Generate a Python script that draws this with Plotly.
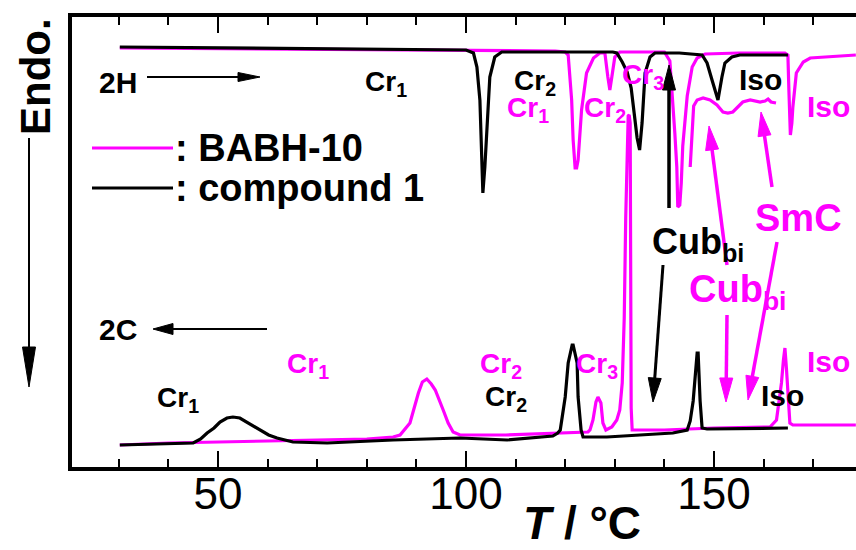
import math
import plotly.graph_objects as go

# ---------------- data (T in °C, heat flow in arbitrary units, endo = down) ----------------
# heating (2H) compound 1
T_heat_c1 = [30.2, 45, 60, 75, 90, 100, 101.5, 102.2, 102.8, 103.1, 103.4, 103.8, 104.2, 104.5, 104.8,
             105.8, 107.2, 115, 122, 129.6, 130.4, 131.5, 132.5, 133.3, 133.9, 134.5, 135.0, 135.5,
             136.1, 137.1, 138.1, 143, 147.6, 148.6, 149.6, 150.3, 150.8, 151.6, 152.2, 153.6, 155.2,
             160, 164.9]
Y_heat_c1 = [421, 420.5, 420, 419.5, 419, 418, 415, 401, 368, 318, 275, 301, 335, 368, 391,
             411, 416, 416, 416, 416, 415, 406, 396, 380, 355, 330, 318, 345,
             395, 411, 415, 415, 413, 405, 388, 375, 368, 391, 405, 411, 413,
             413, 413]

# cooling (2C) compound 1
T_cool_c1 = [30.2, 40, 45.0, 46.5, 47.8, 49.2, 50.4, 51.8, 53.0, 54.4, 55.8, 57.2, 58.5, 60.2, 61.9,
             65.1, 72.0, 85.3, 98.8, 108.3, 117.5, 118.5, 119.0, 120.0, 120.6, 121.4, 121.6, 122.4,
             122.6, 123.2, 123.6, 128.4, 141.7, 144.6, 145.2, 145.8, 146.6, 146.8, 147.2, 147.6,
             148.6, 164.9]
Y_cool_c1 = [23, 24, 25, 29, 35, 40, 46, 50, 51, 50, 46, 42, 38, 33, 30,
             26, 25, 28, 30, 28, 32, 35, 38, 71, 105, 123, 123, 105,
             71, 38, 31, 31, 35, 38, 47, 67, 115, 115, 67, 40,
             39, 40]

# heating (2H) BABH-10
T_heat_b10 = [30.2, 60, 100, 118, 120.0, 120.6, 121.3, 121.6, 122.0, 122.3, 122.6, 123.3, 124.3, 125.7,
              127.0, 128.0, 128.6, 129.0, 129.4, 130.0, 131.0, 140.0, 141.1, 141.7, 142.1, 142.5,
              142.7, 143.1, 143.4, 143.7, 144.6, 145.6, 146.6, 148.2, 155.0, 164.3, 164.9, 165.1,
              165.4, 165.7, 165.9, 166.6, 168.0, 169.4, 172.7, 178.6]
Y_heat_b10 = [420, 419, 418, 417, 416, 413, 368, 328, 300, 300, 308, 358, 395, 410,
              415, 415, 391, 378, 391, 411, 416, 416, 407, 367, 335, 301,
              261, 263, 285, 322, 372, 401, 410, 414, 415, 415, 413, 378,
              333, 345, 361, 395, 406, 410, 411, 413]

# heating (2H) BABH-10, magnified Cub_bi -> SmC -> Iso region
T_heat_b10_mag = [145.2, 145.5, 145.9, 146.6, 147.8, 149.2, 150.6, 151.8, 152.8, 153.8, 154.8, 155.8,
                  157.3, 158.3, 159.3, 160.3, 160.9, 161.5, 162.5]
Y_heat_b10_mag = [301, 335, 362, 368, 370, 368, 363, 356, 355, 356, 361, 366,
                  368, 367, 366, 367, 369, 366, 365]

# cooling (2C) BABH-10
T_cool_b10 = [30.2, 40, 60, 80, 85.3, 86.7, 88.7, 90.4, 91.2, 92.1, 93.0, 93.8, 95.4, 96.4, 97.4,
              98.8, 108.0, 117.5, 124.6, 125.0, 125.6, 126.2, 126.6, 127.2, 127.6, 128.2, 129.4,
              130.4, 131.0, 131.5, 131.9, 132.2, 132.5, 132.7, 132.9, 133.1, 133.2, 133.3, 133.5,
              140.0, 150.0, 161.3, 162.6, 163.6, 164.0, 164.3, 164.6, 164.9, 165.3, 165.9, 178.6]
Y_cool_b10 = [23, 25, 27, 29, 31, 33, 45, 75, 86, 89, 84, 78, 58, 45, 36,
              33, 33, 35, 36, 38, 48, 66, 71, 65, 45, 38, 41,
              48, 58, 85, 150, 250, 330, 352, 353, 345, 200, 60, 38,
              38, 40, 41, 48, 85, 108, 120, 100, 75, 45, 43, 43]

x_tick_vals = [50, 100, 150]
x_tick_text = ["50", "100", "150"]

# ---------------- style ----------------
FONT = "Liberation Sans, Arial, Helvetica, sans-serif"
MAG = "#FF00FF"
BLK = "#000000"
L, T, W, H = 72, 17, 784, 450   # plot area in pixels


def P(x, y):
    return (x - L) / W, (T + H - y) / H


fig = go.Figure()
for xs, ys, col in [(T_heat_b10, Y_heat_b10, MAG), (T_heat_b10_mag, Y_heat_b10_mag, MAG),
                    (T_cool_b10, Y_cool_b10, MAG), (T_heat_c1, Y_heat_c1, BLK),
                    (T_cool_c1, Y_cool_c1, BLK)]:
    fig.add_trace(go.Scatter(x=xs, y=ys, mode="lines", line=dict(color=col, width=3.2),
                             showlegend=False, hoverinfo="skip"))

shapes = []
annotations = []


def arrow(x0, y0, x1, y1, color, width, hl, hw):
    dx, dy = x1 - x0, y1 - y0
    d = math.hypot(dx, dy)
    ux, uy = dx / d, dy / d
    bx, by = x1 - ux * hl, y1 - uy * hl
    nx, ny = -uy, ux
    a = P(x0, y0)
    b = P(bx + ux * 2, by + uy * 2)
    shapes.append(dict(type="line", xref="paper", yref="paper", x0=a[0], y0=a[1], x1=b[0], y1=b[1],
                       line=dict(color=color, width=width)))
    pts = [P(x1, y1), P(bx + nx * hw, by + ny * hw), P(bx - nx * hw, by - ny * hw)]
    path = "M {} {} L {} {} L {} {} Z".format(pts[0][0], pts[0][1], pts[1][0], pts[1][1], pts[2][0], pts[2][1])
    shapes.append(dict(type="path", xref="paper", yref="paper", path=path, fillcolor=color,
                       line=dict(color=color, width=1)))


def label(text, x, y, color, size, xanchor="center", angle=0):
    px, py = P(x, y)
    annotations.append(dict(text=text, x=px, y=py, xref="paper", yref="paper", showarrow=False,
                            xanchor=xanchor, yanchor="middle", textangle=angle,
                            font=dict(family=FONT, size=size, color=color)))


def seg(x0, y0, x1, y1, color, width):
    a, b = P(x0, y0), P(x1, y1)
    shapes.append(dict(type="line", xref="paper", yref="paper", x0=a[0], y0=a[1], x1=b[0], y1=b[1],
                       line=dict(color=color, width=width)))


# arrows
arrow(147, 77, 260, 77, BLK, 2, 22, 4.5)
arrow(267, 329, 153, 329, BLK, 2, 20, 5.5)
arrow(669, 208, 669, 65, BLK, 3.5, 25, 6.5)
arrow(663, 265, 653, 402, BLK, 3, 24, 6.5)
arrow(727, 265, 709, 126, MAG, 3.5, 24, 6.5)
arrow(772, 187, 761, 112, MAG, 3.5, 24, 6.5)
arrow(777, 242, 748, 400, MAG, 3.5, 24, 6.5)
arrow(727, 315, 726, 402, MAG, 3.5, 24, 6.5)
arrow(29, 138, 29, 387, BLK, 2, 40, 6.5)

# legend
seg(92, 148, 173, 148, MAG, 3)
seg(92, 188, 173, 188, BLK, 3)
label("<b>: BABH-10</b>", 173, 148, BLK, 38, xanchor="left")
label("<b>: compound 1</b>", 173, 188, BLK, 38, xanchor="left")

# heating labels
label("<b>2H</b>", 118, 82, BLK, 30)
label("<b>Cr<sub>1</sub></b>", 386, 84, BLK, 28)
label("<b>Cr<sub>2</sub></b>", 535, 82, BLK, 28)
label("<b>Cr<sub>1</sub></b>", 528, 109, MAG, 28)
label("<b>Cr<sub>2</sub></b>", 605, 109, MAG, 28)
label("<b>Cr<sub>3</sub></b>", 643, 77, MAG, 28)
label("<b>Iso</b>", 760, 79, BLK, 30)
label("<b>Iso</b>", 828, 107, MAG, 30)
label("<b>Cub<sub>bi</sub></b>", 698, 244, BLK, 36)
label("<b>SmC</b>", 798, 218, MAG, 38)
label("<b>Cub<sub>bi</sub></b>", 738, 292, MAG, 38)

# cooling labels
label("<b>2C</b>", 118, 329, BLK, 30)
label("<b>Cr<sub>1</sub></b>", 308, 365, MAG, 28)
label("<b>Cr<sub>1</sub></b>", 178, 399, BLK, 28)
label("<b>Cr<sub>2</sub></b>", 501, 365, MAG, 28)
label("<b>Cr<sub>2</sub></b>", 506, 398, BLK, 28)
label("<b>Cr<sub>3</sub></b>", 597, 365, MAG, 28)
label("<b>Iso</b>", 782, 395, BLK, 30)
label("<b>Iso</b>", 828, 361, MAG, 30)

# axis titles
label("<b><i>T</i> / °C</b>", 582, 523, BLK, 46)
label("<b>Endo.</b>", 36, 77, BLK, 42, angle=-90)

fig.update_layout(
    width=856, height=550,
    margin=dict(l=L, r=856 - L - W, t=T, b=550 - T - H),
    plot_bgcolor="white", paper_bgcolor="white",
    showlegend=False,
    shapes=shapes, annotations=annotations,
    font=dict(family=FONT, color=BLK),
)
fig.update_xaxes(
    range=[20.56, 178.63], showline=True, linewidth=4, linecolor=BLK, mirror="ticks",
    ticks="inside", ticklen=16, tickwidth=2, tickcolor=BLK,
    tickmode="array", tickvals=x_tick_vals, ticktext=x_tick_text,
    tickfont=dict(family=FONT, size=44, color=BLK), ticklabelstandoff=-15,
    showgrid=False, zeroline=False,
    minor=dict(ticks="inside", ticklen=8, tickwidth=2, tickcolor=BLK, dtick=10, tick0=0, showgrid=False),
)
fig.update_yaxes(
    range=[1, 451], showline=True, linewidth=4, linecolor=BLK, mirror=False,
    ticks="", showticklabels=False, showgrid=False, zeroline=False,
)

fig.write_html("out.html")
